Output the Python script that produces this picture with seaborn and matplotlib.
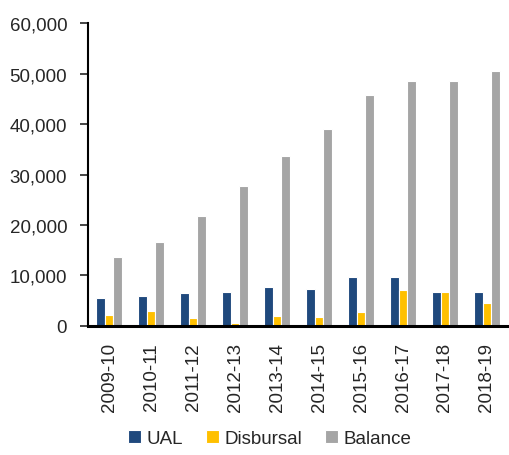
import pandas as pd
import seaborn as sns
import matplotlib.pyplot as plt
from matplotlib.ticker import FuncFormatter

years = ['2009-10', '2010-11', '2011-12', '2012-13', '2013-14',
         '2014-15', '2015-16', '2016-17', '2017-18', '2018-19']
ual = [5500, 5900, 6500, 6700, 7700, 7300, 9700, 9700, 6800, 6800]
disbursal = [2200, 2900, 1500, 500, 2000, 1800, 2800, 7100, 6800, 4600]
balance = [13600, 16600, 21700, 27800, 33600, 39000, 45800, 48500, 48500, 50500]

series = ['UAL', 'Disbursal', 'Balance']
colors = ['#1F497D', '#FFC000', '#A5A5A5']

df = pd.DataFrame({'Year': years, 'UAL': ual, 'Disbursal': disbursal, 'Balance': balance})
long = df.melt(id_vars='Year', value_vars=series, var_name='Series', value_name='Value')

sns.set_style('white')
plt.rcParams['font.family'] = ['Liberation Sans', 'DejaVu Sans']

fig = plt.figure(figsize=(5.09, 4.56), dpi=100)
ax = fig.add_axes([0.173, 0.283, 0.825, 0.664])

sns.barplot(data=long, x='Year', y='Value', hue='Series', hue_order=series,
            palette=colors, width=0.6, edgecolor='white', linewidth=0.8,
            saturation=1, ax=ax)

ax.set_xlim(-0.5, 9.5)
ax.set_ylim(0, 60000)
ax.set_yticks(range(0, 60001, 10000))
ax.yaxis.set_major_formatter(FuncFormatter(lambda v, p: f'{int(v):,}'))
ax.set_xlabel('')
ax.set_ylabel('')
ax.tick_params(axis='y', left=True, length=6, width=1.2, labelsize=13.5, pad=9)
ax.tick_params(axis='x', bottom=False, labelsize=13.5, labelrotation=90, pad=8)

for s in ['top', 'right']:
    ax.spines[s].set_visible(False)
ax.spines['left'].set_linewidth(1.5)
ax.spines['bottom'].set_linewidth(2.2)
ax.spines['left'].set_color('black')
ax.spines['bottom'].set_color('black')

ax.legend(loc='center', bbox_to_anchor=(0.433, -0.373), ncol=3, frameon=False,
          fontsize=13.5, handlelength=0.7, handleheight=0.7, handletextpad=0.3,
          columnspacing=1.2)

fig.savefig('out.png', dpi=100)
